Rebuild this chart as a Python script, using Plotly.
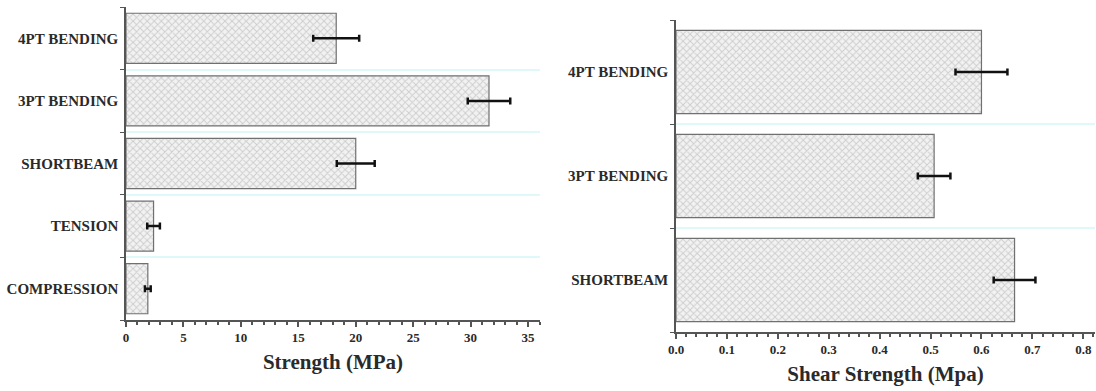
import plotly.graph_objects as go

# Left chart: strength (MPa)
left_categories = ["COMPRESSION", "TENSION", "SHORTBEAM", "3PT BENDING", "4PT BENDING"]
left_values = [1.9, 2.4, 20.0, 31.6, 18.3]
left_errors = [0.25, 0.55, 1.65, 1.85, 2.0]

# Right chart: shear strength (MPa)
right_categories = ["SHORTBEAM", "3PT BENDING", "4PT BENDING"]
right_values = [0.665, 0.507, 0.600]
right_errors = [0.041, 0.032, 0.051]

FONT = "Liberation Serif"
TXT = "#2a2a2a"
AXC = "#555555"
GRID = "#dff8fa"

bar_style = dict(
    marker=dict(
        color="#f2f2f2",
        line=dict(color="#707070", width=1.2),
        pattern=dict(shape="x", fgcolor="#a8a8a8", bgcolor="#f2f2f2", size=5, solidity=0.35),
    ),
    orientation="h",
    showlegend=False,
)
err_style = dict(type="data", symmetric=True, color="#111111", thickness=2.5, width=3.5)

fig = go.Figure()
fig.add_trace(go.Bar(x=left_values, y=left_categories, xaxis="x", yaxis="y",
                     error_x=dict(array=left_errors, **err_style), **bar_style))
fig.add_trace(go.Bar(x=right_values, y=right_categories, xaxis="x2", yaxis="y2",
                     error_x=dict(array=right_errors, **err_style), **bar_style))

W, H = 1096, 391
tickfont = dict(family=FONT, size=13, color=TXT, weight="bold")
catfont = dict(family=FONT, size=15, color=TXT, weight="bold")
titlefont = dict(family=FONT, size=21, color=TXT, weight="bold")

common_x = dict(showline=True, linecolor=AXC, linewidth=1.5, ticks="outside", ticklen=5,
                tickcolor=AXC, tickwidth=1.5, showgrid=False, zeroline=False,
                tickfont=tickfont, title_font=titlefont, automargin=False)
common_y = dict(type="category", showline=True, linecolor=AXC, linewidth=1.5,
                ticks="outside", ticklen=4, tickcolor=AXC, tickson="boundaries",
                showgrid=True, gridcolor=GRID, gridwidth=1.5, zeroline=False,
                tickfont=catfont, ticklabelstandoff=3, automargin=False)

fig.update_layout(
    width=W, height=H,
    margin=dict(l=0, r=0, t=0, b=0),
    paper_bgcolor="white", plot_bgcolor="white",
    bargap=0.2,
    xaxis=dict(domain=[126 / W, 540 / W], anchor="y", range=[0, 36.04], dtick=5,
               minor=dict(dtick=1, ticks="outside", ticklen=3, tickcolor=AXC, showgrid=False),
               title=dict(text="Strength (MPa)", standoff=10), **common_x),
    yaxis=dict(domain=[1 - 320 / H, 1 - 7 / H], anchor="x",
               categoryorder="array", categoryarray=left_categories, **common_y),
    xaxis2=dict(domain=[676 / W, 1095 / W], anchor="y2", range=[0, 0.823], dtick=0.1,
                tickformat=".1f",
                minor=dict(dtick=0.02, ticks="outside", ticklen=3, tickcolor=AXC, showgrid=False),
                title=dict(text="Shear Strength (Mpa)", standoff=10), **common_x),
    yaxis2=dict(domain=[1 - 332 / H, 1 - 20 / H], anchor="x2",
                categoryorder="array", categoryarray=right_categories, **common_y),
)

fig.write_html("out.html", config={"displayModeBar": False},
               post_script="document.body.style.margin='0';document.body.style.overflow='hidden';")
